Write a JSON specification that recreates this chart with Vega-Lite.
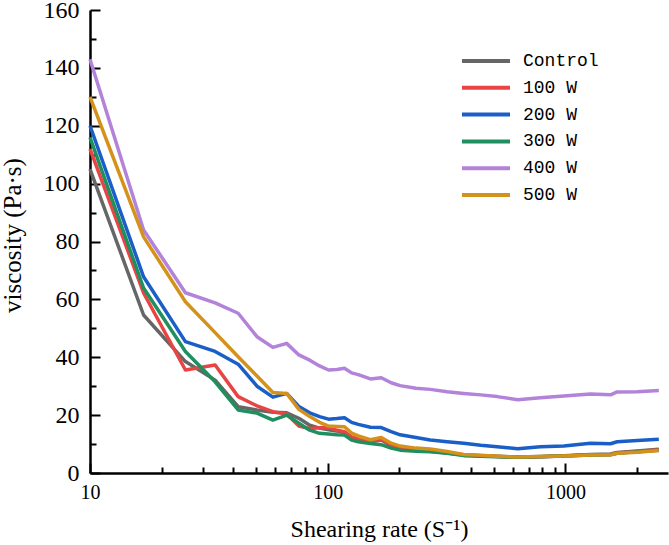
{
  "$schema": "https://vega.github.io/schema/vega-lite/v6.json",
  "width": 578,
  "height": 463,
  "autosize": "none",
  "padding": {"left": 90, "top": 10, "right": 1, "bottom": 72},
  "background": "white",
  "config": {
    "view": {"stroke": null},
    "axis": {"grid": false, "domainColor": "black", "domainWidth": 2.5, "tickColor": "black", "tickWidth": 2, "labelColor": "black", "titleColor": "black", "labelFont": "Liberation Serif", "titleFont": "Liberation Serif", "titleFontWeight": "normal"}
  },
  "data": {
    "values": [
      {"x": 10, "Control": 105, "100 W": 112, "200 W": 120, "300 W": 116, "400 W": 143, "500 W": 130},
      {"x": 16.8, "Control": 54.6, "100 W": 62.2, "200 W": 67.8, "300 W": 63.9, "400 W": 84, "500 W": 81.6},
      {"x": 25.2, "Control": 38.5, "100 W": 35.6, "200 W": 45.4, "300 W": 42, "400 W": 62.3, "500 W": 59.2},
      {"x": 33.6, "Control": 32.1, "100 W": 37.3, "200 W": 42, "300 W": 31.5, "400 W": 58.8, "500 W": 48.5},
      {"x": 42, "Control": 22.9, "100 W": 26.4, "200 W": 37.6, "300 W": 21.8, "400 W": 55.2, "500 W": 40.2},
      {"x": 50.4, "Control": 21.8, "100 W": 23.2, "200 W": 30, "300 W": 20.7, "400 W": 47.1, "500 W": 33.5},
      {"x": 58.8, "Control": 21, "100 W": 21.2, "200 W": 26.2, "300 W": 18.3, "400 W": 43.4, "500 W": 27.8},
      {"x": 67.2, "Control": 20.8, "100 W": 20.4, "200 W": 27.5, "300 W": 20, "400 W": 44.8, "500 W": 27.5},
      {"x": 75.6, "Control": 18.9, "100 W": 16.2, "200 W": 23, "300 W": 17.2, "400 W": 40.8, "500 W": 22},
      {"x": 84, "Control": 16.5, "100 W": 15.4, "200 W": 20.8, "300 W": 14.8, "400 W": 39, "500 W": 19.5},
      {"x": 92.4, "Control": 15.5, "100 W": 15.6, "200 W": 19.5, "300 W": 13.7, "400 W": 37, "500 W": 17.5},
      {"x": 100.8, "Control": 14.9, "100 W": 15.7, "200 W": 18.6, "300 W": 13.5, "400 W": 35.6, "500 W": 16.2},
      {"x": 109.2, "Control": 14.5, "100 W": 14.8, "200 W": 18.8, "300 W": 13.2, "400 W": 35.8, "500 W": 16.1},
      {"x": 117.6, "Control": 14, "100 W": 14.3, "200 W": 19.1, "300 W": 13.1, "400 W": 36.2, "500 W": 16},
      {"x": 126, "Control": 12.3, "100 W": 12.5, "200 W": 17.5, "300 W": 11.4, "400 W": 34.6, "500 W": 13.8},
      {"x": 134.4, "Control": 11.6, "100 W": 11.8, "200 W": 16.8, "300 W": 10.8, "400 W": 34, "500 W": 12.8},
      {"x": 151.2, "Control": 10.8, "100 W": 11, "200 W": 15.8, "300 W": 10.2, "400 W": 32.5, "500 W": 11.5},
      {"x": 168, "Control": 11.4, "100 W": 11.6, "200 W": 15.7, "300 W": 9.8, "400 W": 32.9, "500 W": 12.3},
      {"x": 184.8, "Control": 9.5, "100 W": 9.8, "200 W": 14.3, "300 W": 8.6, "400 W": 31.2, "500 W": 10.3},
      {"x": 201.6, "Control": 8.7, "100 W": 8.9, "200 W": 13.2, "300 W": 7.9, "400 W": 30.2, "500 W": 9.3},
      {"x": 235, "Control": 8, "100 W": 8.2, "200 W": 12.3, "300 W": 7.5, "400 W": 29.3, "500 W": 8.6},
      {"x": 270, "Control": 7.5, "100 W": 7.8, "200 W": 11.4, "300 W": 7.3, "400 W": 28.9, "500 W": 8.3},
      {"x": 318, "Control": 6.9, "100 W": 7, "200 W": 10.8, "300 W": 6.8, "400 W": 28.1, "500 W": 7.4},
      {"x": 373, "Control": 6.2, "100 W": 6.3, "200 W": 10.3, "300 W": 6, "400 W": 27.5, "500 W": 6.4},
      {"x": 440, "Control": 6, "100 W": 6, "200 W": 9.6, "300 W": 5.8, "400 W": 27, "500 W": 6.1},
      {"x": 516, "Control": 5.8, "100 W": 5.7, "200 W": 9.1, "300 W": 5.6, "400 W": 26.4, "500 W": 5.8},
      {"x": 630, "Control": 5.5, "100 W": 5.4, "200 W": 8.4, "300 W": 5.4, "400 W": 25.3, "500 W": 5.5},
      {"x": 785, "Control": 5.7, "100 W": 5.6, "200 W": 9.1, "300 W": 5.6, "400 W": 26, "500 W": 5.7},
      {"x": 984, "Control": 6, "100 W": 5.9, "200 W": 9.3, "300 W": 5.9, "400 W": 26.6, "500 W": 5.9},
      {"x": 1275, "Control": 6.4, "100 W": 6.3, "200 W": 10.3, "300 W": 6.2, "400 W": 27.3, "500 W": 6.2},
      {"x": 1547, "Control": 6.6, "100 W": 6.4, "200 W": 10.1, "300 W": 6.3, "400 W": 27, "500 W": 6.3},
      {"x": 1650, "Control": 7.1, "100 W": 6.9, "200 W": 10.8, "300 W": 6.8, "400 W": 28, "500 W": 6.8},
      {"x": 2004, "Control": 7.6, "100 W": 7.4, "200 W": 11.2, "300 W": 7.3, "400 W": 28.1, "500 W": 7.2},
      {"x": 2470, "Control": 8.2, "100 W": 8, "200 W": 11.7, "300 W": 7.9, "400 W": 28.5, "500 W": 7.8}
    ]
  },
  "transform": [
    {"fold": ["Control", "100 W", "200 W", "300 W", "400 W", "500 W"], "as": ["group", "viscosity"]}
  ],
  "mark": {"type": "line", "strokeWidth": 3.5, "strokeJoin": "round"},
  "encoding": {
    "x": {
      "field": "x", "type": "quantitative",
      "scale": {"type": "log", "domain": [10, 2700], "nice": false},
      "axis": {
        "title": "Shearing rate (S⁻¹)",
        "values": [10, 20, 30, 40, 50, 60, 70, 80, 90, 100, 200, 300, 400, 500, 600, 700, 800, 900, 1000, 2000],
        "labelExpr": "(datum.value == 10 || datum.value == 100 || datum.value == 1000) ? datum.value : ''",
        "tickSize": {"condition": {"test": "datum.value == 10 || datum.value == 100 || datum.value == 1000", "value": -10}, "value": -6},
        "labelFontSize": 20, "labelPadding": 19, "labelFlush": false, "labelOverlap": false,
        "titleFontSize": 24, "titlePadding": 11
      }
    },
    "y": {
      "field": "viscosity", "type": "quantitative",
      "scale": {"domain": [0, 160], "nice": false},
      "axis": {
        "title": "viscosity (Pa·s)",
        "values": [0, 10, 20, 30, 40, 50, 60, 70, 80, 90, 100, 110, 120, 130, 140, 150, 160],
        "labelExpr": "datum.value % 20 == 0 ? datum.value : ''",
        "tickSize": {"condition": {"test": "datum.value % 20 == 0", "value": -10}, "value": -6},
        "labelFontSize": 24, "labelPadding": 21, "labelOverlap": false, "labelFlush": false,
        "titleFontSize": 25, "titleX": -78, "titleY": 225, "titleBaseline": "middle"
      }
    },
    "color": {
      "field": "group", "type": "nominal",
      "scale": {"domain": ["Control", "100 W", "200 W", "300 W", "400 W", "500 W"], "range": ["#666666", "#e84444", "#1a5ec8", "#1f8f5f", "#b283d9", "#d4921a"]},
      "legend": {
        "title": null, "orient": "none", "legendX": 387, "legendY": 42,
        "symbolType": "M-4,0H4", "symbolSize": 144, "symbolStrokeWidth": 4,
        "labelFont": "Liberation Mono", "labelFontSize": 18, "labelColor": "black",
        "rowPadding": 8.8, "labelOffset": 28
      }
    }
  }
}
